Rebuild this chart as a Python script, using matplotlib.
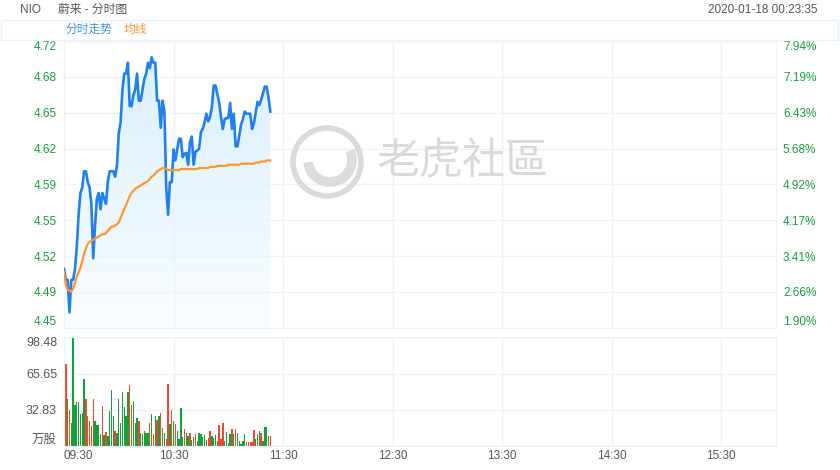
import numpy as np
import matplotlib
matplotlib.use('Agg')
import matplotlib.pyplot as plt
from matplotlib.patches import Rectangle, Ellipse, Arc, Polygon
from matplotlib.colors import LinearSegmentedColormap

plt.rcParams['font.family'] = ['Liberation Sans', 'Noto Sans CJK SC', 'DejaVu Sans']

# --- данные (минуты от 09:30) ---
price = [4.51, 4.50, 4.50, 4.47, 4.50, 4.50, 4.51, 4.53, 4.56, 4.58,
         4.585, 4.60, 4.60, 4.59, 4.585, 4.57, 4.52, 4.55, 4.575, 4.58,
         4.565, 4.58, 4.575, 4.57, 4.59, 4.60, 4.60, 4.60, 4.595, 4.605,
         4.635, 4.645, 4.675, 4.69, 4.69, 4.70, 4.66, 4.66, 4.67, 4.675,
         4.69, 4.665, 4.665, 4.675, 4.685, 4.69, 4.70, 4.695, 4.705, 4.70,
         4.70, 4.665, 4.665, 4.64, 4.665, 4.655, 4.585, 4.56, 4.59, 4.59,
         4.62, 4.61, 4.62, 4.63, 4.63, 4.613, 4.616, 4.617, 4.606, 4.627,
         4.632, 4.606, 4.618, 4.619, 4.621, 4.636, 4.639, 4.645, 4.653, 4.646,
         4.65, 4.659, 4.679, 4.679, 4.671, 4.663, 4.65, 4.639, 4.648, 4.649,
         4.649, 4.663, 4.639, 4.653, 4.623, 4.623, 4.633, 4.643, 4.648, 4.655,
         4.653, 4.653, 4.653, 4.639, 4.644, 4.654, 4.664, 4.661, 4.666, 4.672,
         4.678, 4.678, 4.668, 4.655]
avg_price = [4.507, 4.495, 4.491, 4.490, 4.489, 4.492, 4.497, 4.503, 4.507, 4.511,
             4.517, 4.524, 4.529, 4.533, 4.535, 4.536, 4.537, 4.538, 4.539, 4.540,
             4.541, 4.542, 4.542, 4.543, 4.545, 4.547, 4.549, 4.549, 4.550, 4.551,
             4.553, 4.557, 4.561, 4.565, 4.569, 4.573, 4.577, 4.580, 4.582, 4.584,
             4.585, 4.586, 4.587, 4.588, 4.589, 4.590, 4.591, 4.593, 4.595, 4.596,
             4.598, 4.600, 4.601, 4.602, 4.603, 4.603, 4.602, 4.601, 4.601, 4.601,
             4.601, 4.601, 4.601, 4.601, 4.602, 4.602, 4.602, 4.602, 4.602, 4.602,
             4.602, 4.602, 4.602, 4.602, 4.603, 4.603, 4.603, 4.603, 4.603, 4.603,
             4.604, 4.604, 4.604, 4.604, 4.605, 4.605, 4.605, 4.605, 4.605, 4.605,
             4.606, 4.606, 4.606, 4.606, 4.606, 4.606, 4.606, 4.607, 4.607, 4.607,
             4.607, 4.607, 4.607, 4.607, 4.607, 4.608, 4.608, 4.608, 4.609, 4.609,
             4.609, 4.610, 4.610, 4.610]
volume = [3.3, 74, 43, 33, 21, 97.6, 37, 40, 40, 29,
          30, 61, 43, 27, 23, 18, 43, 23, 19, 19,
          11, 36, 10, 13, 9, 32, 51, 27, 14, 12,
          43, 21, 49, 35, 27, 49, 55, 37, 41, 21,
          25, 23, 12, 11, 14, 12, 12, 21, 29, 11,
          27, 24, 27, 30, 16, 12, 6, 56, 20, 33,
          23, 20, 14, 6, 34, 8, 15, 12, 9, 12,
          5.5, 8.5, 11, 4.5, 12, 11, 8.5, 10, 5.5, 7,
          14, 9, 7, 10, 4.5, 19, 6, 21, 4.5, 13,
          2.5, 11, 15, 10.5, 15, 12, 4.5, 2, 4.5, 10.5,
          3.3, 3.3, 3.3, 3.3, 14.5, 6, 10.5, 14, 12, 4.5,
          17.5, 17.5, 9, 9]
# r - красный столбик, g - зелёный
vol_side = ('grgrgggggg' 'ggrrrrrggg' 'grgrggggrg' 'ggggggrrgg' 'grgggggrgr'
            'grgrggrrgr' 'grggggrggr' 'ggrggggggr' 'rggggrrrgg' 'ggrgrggggg'
            'rrrrrgggrg' 'ggrr')

price_labels = ['4.45', '4.49', '4.52', '4.55', '4.59', '4.62', '4.65', '4.68', '4.72']
pct_labels = ['1.90%', '2.66%', '3.41%', '4.17%', '4.92%', '5.68%', '6.43%', '7.19%', '7.94%']
vol_labels = ['万股', '32.83', '65.65', '98.48']
time_labels = ['09:30', '10:30', '11:30', '12:30', '13:30', '14:30', '15:30']

minutes = np.arange(len(price))
p_lo, p_hi = 4.4559, 4.72
v_hi = 98.48

grid_c = '#e8f3fa'
green = '#16a03c'
red = '#f2472a'
blue = '#2080f0'
orange = '#ff962e'
grey = '#555555'

fig = plt.figure(figsize=(8.4, 4.7), dpi=100)

# шапка
fig.text(20 / 840, 1 - 10 / 470, 'NIO', fontsize=8.5, color=grey, va='center')
fig.text(58 / 840, 1 - 10 / 470, '蔚来 - 分时图', fontsize=8.5, color=grey, va='center')
fig.text(818 / 840, 1 - 10 / 470, '2020-01-18 00:23:35', fontsize=8.5, color=grey,
         va='center', ha='right')
fig.patches.append(Rectangle((1 / 840, 1 - 40 / 470), 837 / 840, 20 / 470,
                             transform=fig.transFigure, fill=False,
                             edgecolor=grid_c, lw=1))
fig.text(65 / 840, 1 - 30 / 470, '分时走势', fontsize=8.5, color='#3d8fe6', va='center')
fig.text(124 / 840, 1 - 30 / 470, '均线', fontsize=8.5, color=orange, va='center')

# цена
ax = fig.add_axes([64 / 840, 1 - 327.7 / 470, 712 / 840, 286.7 / 470])

# градиентная заливка под линией
grad = np.linspace(0, 1, 256).reshape(-1, 1)
cmap = LinearSegmentedColormap.from_list('fill', ['#fafdff', '#daf0fd'])
img = ax.imshow(grad, extent=[0, minutes[-1], p_lo, max(price)], origin='lower',
                cmap=cmap, aspect='auto', zorder=1)
poly = Polygon(np.column_stack([np.r_[minutes, minutes[-1], 0],
                                np.r_[price, p_lo, p_lo]]),
               closed=True, facecolor='none', edgecolor='none')
ax.add_patch(poly)
img.set_clip_path(poly)
ax.set_ylim(p_lo, p_hi)
ax.set_xlim(0, 390)

ax.plot(minutes, price, color=blue, lw=1.9, zorder=3, solid_joinstyle='round')
ax.plot(minutes, avg_price, color=orange, lw=1.6, zorder=3)

yt = np.linspace(p_lo, p_hi, len(price_labels))
ax.set_yticks(yt)
ax.set_yticklabels(price_labels, color=green, fontsize=8.5)
ax.set_xticks(np.arange(0, 391, 60))
ax.set_xticklabels([])
ax.tick_params(length=0, pad=5)
ax.grid(True, color=grid_c, lw=1)
for s in ax.spines.values():
    s.set_color(grid_c)
lbls = ax.get_yticklabels()
lbls[0].set_va('bottom')
lbls[-1].set_va('top')

ax_r = ax.twinx()
ax_r.set_ylim(p_lo, p_hi)
ax_r.set_yticks(yt)
ax_r.set_yticklabels(pct_labels, color=green, fontsize=8.5)
ax_r.tick_params(length=0, pad=5)
for s in ax_r.spines.values():
    s.set_visible(False)
rl = ax_r.get_yticklabels()
rl[0].set_va('bottom')
rl[-1].set_va('top')

# водяной знак
cx, cy = 327 / 840, 1 - 162 / 470
fig.patches.append(Ellipse((cx, cy), 68 / 840, 68 / 470, transform=fig.transFigure,
                           fill=False, edgecolor='#dadada', lw=4))
fig.patches.append(Arc((cx + 3 / 840, cy + 2 / 470), 44 / 840, 44 / 470, theta1=190, theta2=40,
                       transform=fig.transFigure, edgecolor='#dcdcdc', lw=7))
fig.text(463 / 840, 1 - 162 / 470, '老虎社區', fontsize=31, color='#d9d9d9',
         ha='center', va='center', family=['Noto Sans CJK TC', 'DejaVu Sans'])

# объём
ax2 = fig.add_axes([64 / 840, 1 - 446 / 470, 712 / 840, 108.7 / 470])
ax2.set_xlim(0, 390)
ax2.set_ylim(0, v_hi)
cols = [red if c == 'r' else green for c in vol_side]
ax2.bar(minutes, volume, width=0.75, color=cols, zorder=2)
ax2.set_yticks(np.linspace(0, v_hi, len(vol_labels)))
ax2.set_yticklabels(vol_labels, color=grey, fontsize=9)
ax2.set_xticks(np.arange(0, 391, 60))
ax2.set_xticklabels(time_labels, color=grey, fontsize=8.5)
ax2.tick_params(length=0, pad=5)
ax2.tick_params(axis='x', pad=3)
ax2.grid(True, color=grid_c, lw=1)
for s in ax2.spines.values():
    s.set_color(grid_c)
vl = ax2.get_yticklabels()
vl[0].set_va('bottom')
vl[-1].set_va('top')
ax2.get_xticklabels()[0].set_ha('left')

fig.savefig('out.png', dpi=100, facecolor='white')
